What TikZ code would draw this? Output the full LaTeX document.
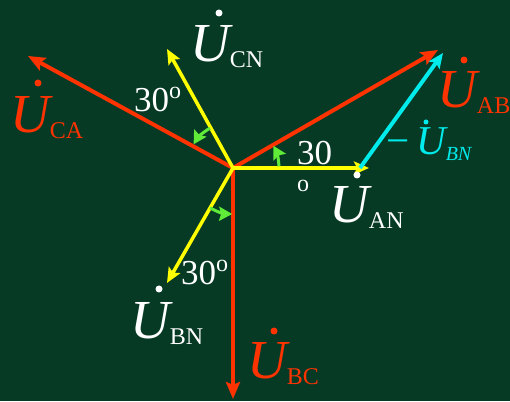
\documentclass[tikz,border=0pt]{standalone}
\usepackage{fontspec}
\setmainfont{Liberation Serif}
\usetikzlibrary{arrows.meta}

\definecolor{board}{RGB}{6,58,37}
\definecolor{phred}{RGB}{255,51,0}
\definecolor{phyel}{RGB}{255,255,0}
\definecolor{phcyan}{RGB}{0,235,235}
\definecolor{phgreen}{RGB}{95,235,55}

% phasor symbol: big italic U with an upright subscript
\newcommand{\phU}[1]{{\fontsize{55}{55}\selectfont\itshape U}\raisebox{-6pt}{\fontsize{24}{24}\selectfont #1}}
\newcommand{\angtxt}[1]{{\fontsize{35}{35}\selectfont #1}}

\tikzset{
  redvec/.style={draw=phred, line width=4pt, -{Stealth[length=17pt,width=14pt,inset=3pt]}},
  yelvec/.style={draw=phyel, line width=3.5pt, -{Stealth[length=15pt,width=13pt,inset=3pt]}},
  cyanvec/.style={draw=phcyan, line width=4pt, -{Stealth[length=15pt,width=13pt,inset=3pt]}},
  garc/.style={draw=phgreen, line width=3pt, -{Stealth[length=13pt,width=14pt,inset=2pt]}},
  lab/.style={anchor=base west, inner sep=0pt},
}

\begin{document}
\begin{tikzpicture}[x=1pt, y=1pt]
  \fill[board] (0,0) rectangle (510,401);
  \useasboundingbox (0,0) rectangle (510,401);

  \coordinate (o) at (233,233);
  \coordinate (an) at (369,233);
  \coordinate (cn) at (167,352);
  \coordinate (bn) at (167,118);
  \coordinate (ab) at (438,351);
  \coordinate (ca) at (28,345);
  \coordinate (bc) at (233,2);
  \coordinate (mbn0) at (360,233);
  \coordinate (mbn1) at (443,348);

  % line voltages
  \draw[redvec] (o) -- (ab);
  \draw[redvec] (o) -- (ca);
  \draw[redvec] (o) -- (bc);
  % phase voltages
  \draw[yelvec] (o) -- (an);
  \draw[yelvec] (o) -- (cn);
  \draw[yelvec] (o) -- (bn);
  \draw[cyanvec] (mbn0) -- (mbn1);

  % 30 degree arcs
  \draw[garc] ([shift={(120:46)}]o) arc[start angle=120, end angle=149, radius=46];
  \draw[garc] ([shift={(2:46)}]o) arc[start angle=2, end angle=29, radius=46];
  \draw[garc] ([shift={(240:46)}]o) arc[start angle=240, end angle=269, radius=46];

  % labels
  \node[lab, white] (lcn) at (190,339) {\phU{CN}};
  \node[lab, phred] (lca) at (10,268) {\phU{CA}};
  \node[lab, white] (lan) at (329,178) {\phU{AN}};
  \node[lab, white] (lbn) at (130,63) {\phU{BN}};
  \node[lab, phred] (lbc) at (247,23) {\phU{BC}};
  \node[lab, phred] (lab) at (437,293) {\phU{AB}};
  \node[lab, phcyan] (lmbn) at (386,246)
    {{\fontsize{41}{41}\selectfont −\,\itshape U}\raisebox{-6pt}{\fontsize{20}{20}\selectfont\itshape BN}};
  \fill[white] (219,388) circle (3.5);
  \fill[phred] (38,318) circle (3.5);
  \fill[white] (357,226) circle (3.5);
  \fill[white] (159,112) circle (3.5);
  \fill[phred] (274,70) circle (3.5);
  \fill[phred] (464,341) circle (3.5);
  \fill[phcyan] (426,279) circle (2.5);

  \node[lab, white] (d1) at (134,289) {\angtxt{30}\raisebox{13pt}{\fontsize{24}{24}\selectfont o}};
  \node[lab, white] (d2) at (297,236) {\angtxt{30}};
  \node[white, font=\fontsize{24}{24}\selectfont] (d2o) at (303,215) {o};
  \node[lab, white] (d3) at (181,116) {\angtxt{30}\raisebox{13pt}{\fontsize{24}{24}\selectfont o}};
\end{tikzpicture}
\end{document}
